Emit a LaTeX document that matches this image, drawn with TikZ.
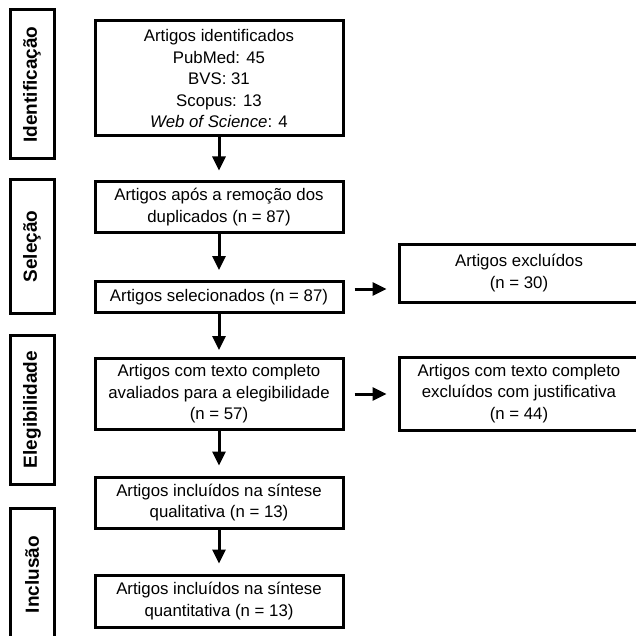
\documentclass[tikz,border=0pt]{standalone}
\usepackage{fontspec}
\setmainfont{Liberation Sans}
\usetikzlibrary{arrows.meta}

\begin{document}
\begin{tikzpicture}[x=1pt,y=-1pt,
	box/.style={draw,line width=3pt,align=center,inner sep=0pt,font=\fontsize{16.8}{21.5}\selectfont},
	side/.style={draw,line width=3pt,rotate=90,inner sep=0pt,minimum height=44pt,font=\fontsize{19}{21}\selectfont\bfseries},
	arr/.style={line width=3pt,-{Triangle[length=14pt,width=13pt]}}]
				\useasboundingbox (0,0) rectangle (635,636);
				
				\node[side,minimum width=149pt] (s1) at (32,84.5) {Identificação};
				\node[side,minimum width=133pt] (s2) at (32,246.5) {Seleção};
				\node[side,minimum width=149pt] (s3) at (32,409.5) {Elegibilidade};
				\node[side,minimum width=133pt] (s4) at (32,574.5) {Inclusão};
				
				\node[box,minimum width=248pt,minimum height=115pt] (v1) at (219,78.5) {Artigos identificados\\PubMed: 45\\BVS: 31\\Scopus: 13\\\textit{Web of Science}: 4};
				\node[box,minimum width=248pt,minimum height=50pt] (v2) at (219,207) {Artigos após a remoção dos\\duplicados (n = 87)};
				\node[box,minimum width=248pt,minimum height=31pt] (v3) at (219,297) {Artigos selecionados (n = 87)};
				\node[box,minimum width=248pt,minimum height=71pt] (v4) at (219,394) {Artigos com texto completo\\avaliados para a elegibilidade\\(n = 57)};
				\node[box,minimum width=248pt,minimum height=51pt] (v5) at (219,502.5) {Artigos incluídos na síntese\\qualitativa (n = 13)};
				\node[box,minimum width=248pt,minimum height=52pt] (v6) at (219,601) {Artigos incluídos na síntese\\quantitativa (n = 13)};
				
				\node[box,minimum width=240pt,minimum height=58pt] (v7) at (519,273) {Artigos excluídos\\(n = 30)};
				\node[box,minimum width=240pt,minimum height=73pt] (v8) at (519,393.5) {Artigos com texto completo\\excluídos com justificativa\\(n = 44)};
				
				\draw [arr,shorten >=10pt] (v1) -- (v2);
				\draw [arr,shorten >=10pt] (v2) -- (v3);
				\draw [arr,shorten >=7pt] (v3) -- (v4);
				\draw [arr,shorten >=10pt] (v4) -- (v5);
				\draw [arr,shorten >=10pt] (v5) -- (v6);
				\draw [arr,shorten <=10pt,shorten >=11pt] ([yshift=8pt]v3.east) -- ([yshift=8pt]v3.east -| v7.west);
				\draw [arr,shorten <=10pt,shorten >=11pt] (v4.east) -- (v4.east -| v8.west);
\end{tikzpicture}
\end{document}
